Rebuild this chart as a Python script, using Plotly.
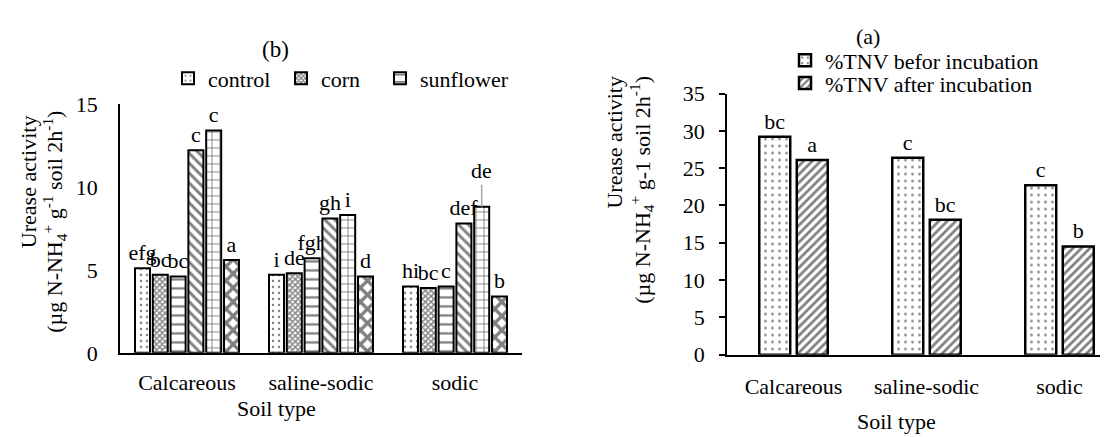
import plotly.graph_objects as go

W, H = 1108, 437
FONT = "Liberation Serif"

# ---------------- data ----------------
soil_types = ["Calcareous", "saline-sodic", "sodic"]

# panel (b): six bar series per soil type (only first three named in legend)
b_names = ["control", "corn", "sunflower", "series 4", "series 5", "series 6"]
b_s1 = [5.1, 4.7, 4.0]
b_s2 = [4.7, 4.8, 3.9]
b_s3 = [4.6, 5.7, 4.0]
b_s4 = [12.2, 8.1, 7.8]
b_s5 = [13.4, 8.3, 8.8]
b_s6 = [5.6, 4.6, 3.4]
b_values = [b_s1, b_s2, b_s3, b_s4, b_s5, b_s6]

b_lab1 = ["efg", "i", "hi"]
b_lab2 = ["bc", "de", "bc"]
b_lab3 = ["bc", "fgh", "c"]
b_lab4 = ["c", "gh", "def"]
b_lab5 = ["c", "i", "de"]
b_lab6 = ["a", "d", "b"]
b_labels = [b_lab1, b_lab2, b_lab3, b_lab4, b_lab5, b_lab6]
b_raised = (4, 2)  # label drawn above its bar with a leader line

b_ticks = [0, 5, 10, 15]

# panel (a)
a_names = ["%TNV befor incubation", "%TNV after incubation"]
a_before = [29.2, 26.4, 22.7]
a_after = [26.1, 18.1, 14.5]
a_lab_before = ["bc", "c", "c"]
a_lab_after = ["a", "bc", "b"]
a_ticks = [0, 5, 10, 15, 20, 25, 30, 35]

# ---------------- styling ----------------
def px(x):
    return x / W

def py(y):
    return 1 - y / H

b_patterns = [
    dict(shape=".", size=6, solidity=0.14),
    dict(shape="x", size=4, solidity=0.6),
    dict(shape="-", size=9, solidity=0.25),
    dict(shape="\\", size=7, solidity=0.42),
    dict(shape="+", size=8, solidity=0.22),
    dict(shape="x", size=10, solidity=0.55),
]
a_patterns = [
    dict(shape=".", size=7, solidity=0.12),
    dict(shape="/", size=6, solidity=0.45),
]

b_pitch, b_width, b_start = 0.1328, 0.112, -0.388
a_width = 0.233
a_offsets = [-0.2575, 0.0245]

b_legends = [("legend", 160), ("legend2", 273), ("legend3", 372)]
a_legends = [("legend4", 43), ("legend5", 67)]

fig = go.Figure()

for j, (name, vals, labs, pat) in enumerate(zip(b_names, b_values, b_labels, b_patterns)):
    text = [("" if (j, i) == b_raised else t) for i, t in enumerate(labs)]
    kw = {}
    if j < 3:
        kw["legend"] = b_legends[j][0]
    fig.add_trace(go.Bar(
        x=soil_types, y=vals, name=name,
        width=b_width, offset=b_start + j * b_pitch,
        marker=dict(color="white", line=dict(color="black", width=2),
                    pattern=dict(fgcolor="black", bgcolor="white", **pat)),
        text=text, textposition="outside", constraintext="none", cliponaxis=False,
        textfont=dict(family=FONT, size=22, color="black"),
        showlegend=(j < 3), xaxis="x", yaxis="y", **kw,
    ))

for j, (name, vals, labs, pat) in enumerate(zip(a_names, [a_before, a_after],
                                                 [a_lab_before, a_lab_after], a_patterns)):
    fig.add_trace(go.Bar(
        x=soil_types, y=vals, name=name,
        width=a_width, offset=a_offsets[j],
        marker=dict(color="white", line=dict(color="black", width=2.5),
                    pattern=dict(fgcolor="black", bgcolor="white", **pat)),
        text=labs, textposition="outside", constraintext="none", cliponaxis=False,
        textfont=dict(family=FONT, size=22, color="black"),
        xaxis="x2", yaxis="y2", legend=a_legends[j][0],
    ))

def label(x, y, text, size=22, angle=0):
    return dict(xref="paper", yref="paper", x=px(x), y=py(y), text=text,
                showarrow=False, xanchor="center", yanchor="middle", textangle=angle,
                font=dict(family=FONT, size=size, color="black"))

rj, ri = b_raised
annotations = [
    dict(xref="x", yref="y", x=ri + b_start + rj * b_pitch + b_width / 2,
         y=b_values[rj][ri], text=b_labels[rj][ri], showarrow=True, arrowhead=0,
         arrowcolor="#a6a6a6", arrowwidth=1.5, ax=0, ay=-36,
         font=dict(family=FONT, size=22, color="black")),
    label(267, 31, "(b)", 23),
    label(860, 18, "(a)", 22),
    label(268, 412, "Soil type"),
    label(888, 426, "Soil type"),
    # y titles (two lines each)
    label(20, 172, "Urease activity", angle=-90),
    label(47, 214, "(µg N-NH<sub>4</sub><sup>+</sup> g<sup>-1</sup> soil 2h<sup>-1</sup>)", angle=-90),
    label(607, 130, "Urease activity", angle=-90),
    label(634, 180, "(µg N-NH<sub>4</sub><sup>+</sup> g-1 soil 2h<sup>-1</sup>)", angle=-90),
]

axis_font = dict(family=FONT, size=22, color="black")
layout = dict(
    width=W, height=H, autosize=False,
    margin=dict(l=0, r=0, t=0, b=0),
    paper_bgcolor="white", plot_bgcolor="white",
    font=dict(family=FONT, size=22, color="black"),
    barmode="group",
    xaxis=dict(domain=[px(112), px(514)], type="category", range=[-0.5, 2.5],
               showline=True, linecolor="black", linewidth=1.5, ticks="",
               tickfont=axis_font, ticklabelstandoff=9, anchor="y", fixedrange=True),
    yaxis=dict(domain=[py(353), py(89)], range=[0, 15], tickvals=b_ticks,
               showline=True, linecolor="black", linewidth=1.5, ticks="",
               showgrid=False, zeroline=False, tickfont=axis_font,
               ticklabelstandoff=16, anchor="x"),
    xaxis2=dict(domain=[px(719), 1.0], type="category",
                range=[-0.5, -0.5 + (W - 719) / 133.0],
                showline=True, linecolor="black", linewidth=1.5, ticks="",
                tickfont=axis_font, ticklabelstandoff=11, anchor="y2"),
    yaxis2=dict(domain=[py(355), py(78)], range=[0, 35], tickvals=a_ticks,
                showline=True, linecolor="black", linewidth=1.5, ticks="outside",
                ticklen=6, tickcolor="black", tickwidth=1.5,
                showgrid=False, zeroline=False, tickfont=axis_font,
                ticklabelstandoff=10, anchor="x2"),
    annotations=annotations,
)
for name, lx in b_legends:
    layout[name] = dict(x=px(lx), y=py(62), xanchor="left", yanchor="middle",
                        bgcolor="rgba(0,0,0,0)", font=axis_font, orientation="h")
for name, ly in a_legends:
    layout[name] = dict(x=px(777), y=py(ly), xanchor="left", yanchor="middle",
                        bgcolor="rgba(0,0,0,0)", font=axis_font, orientation="h")

fig.update_layout(**layout)
fig.write_html("out.html")
